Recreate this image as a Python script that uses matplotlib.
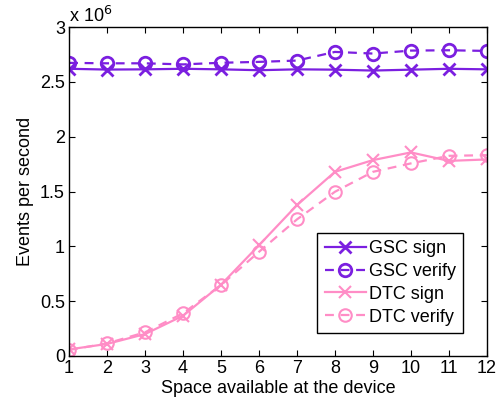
import matplotlib
matplotlib.use("Agg")
import matplotlib.pyplot as plt

plt.rcParams['font.family'] = ['Liberation Sans', 'DejaVu Sans']

x = list(range(1, 13))
gsc_sign = [2.62, 2.613, 2.615, 2.62, 2.615, 2.607, 2.615, 2.612, 2.604, 2.612, 2.62, 2.615]
gsc_verify = [2.674, 2.67, 2.67, 2.66, 2.675, 2.683, 2.695, 2.774, 2.759, 2.786, 2.789, 2.783]
dtc_sign = [0.06, 0.11, 0.20, 0.367, 0.65, 1.01, 1.376, 1.68, 1.787, 1.857, 1.78, 1.793]
dtc_verify = [0.055, 0.115, 0.216, 0.389, 0.647, 0.95, 1.246, 1.498, 1.68, 1.757, 1.826, 1.832]

xticks = list(range(1, 13))
yticks = [0, 0.5, 1, 1.5, 2, 2.5, 3]
ytick_labels = ['0', '0.5', '1', '1.5', '2', '2.5', '3']

purple = '#7B1FE0'
pink = '#FF8DC6'

fig = plt.figure(figsize=(5.04, 4.05), dpi=100)
ax = fig.add_axes([0.137, 0.121, 0.829, 0.812])

lw = 1.6
ms = 8
ax.plot(x, gsc_sign, '-', color=purple, lw=lw, marker='x', ms=ms, mew=2, label='GSC sign')
ax.plot(x, gsc_verify, '--', color=purple, lw=lw, marker='o', ms=ms+1, mew=2, mfc='none', label='GSC verify', dashes=(4, 3))
ax.plot(x, dtc_sign, '-', color=pink, lw=lw, marker='x', ms=ms, mew=1.5, label='DTC sign')
ax.plot(x, dtc_verify, '--', color=pink, lw=lw, marker='o', ms=ms+1, mew=1.5, mfc='none', label='DTC verify', dashes=(4, 3))

ax.set_xlim(1, 12)
ax.set_ylim(0, 3)
ax.set_xticks(xticks)
ax.set_yticks(yticks)
ax.set_yticklabels(ytick_labels)
ax.tick_params(direction='in', top=True, right=True, labelsize=13, length=4, width=0.8, pad=3)
for s in ax.spines.values():
    s.set_linewidth(1.0)

ax.set_xlabel('Space available at the device', fontsize=13, labelpad=2)
ax.set_ylabel('Events per second', fontsize=13, labelpad=4)
ax.text(0.0, 1.004, r'x 10$^{6}$', transform=ax.transAxes, fontsize=13, ha='left', va='bottom')

leg = ax.legend(loc='lower right', bbox_to_anchor=(0.943, 0.07), fontsize=13, frameon=True,
                fancybox=False, edgecolor='black', framealpha=1, handlelength=2.3,
                borderpad=0.4, labelspacing=0.33, handletextpad=0.15, borderaxespad=0)
leg.get_frame().set_linewidth(1.0)

fig.savefig('out.png', dpi=100)
